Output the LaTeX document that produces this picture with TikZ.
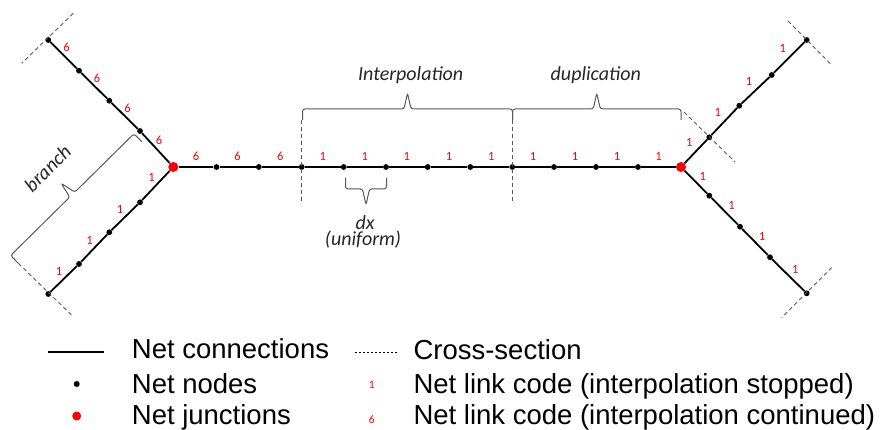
\documentclass[tikz,border=0pt]{standalone}
\usepackage{fontspec}
\setmainfont{Carlito}
\newfontfamily\legfont{Liberation Sans}
\usetikzlibrary{positioning}

\tikzset{
  pics/sqbrace/.style={code={
    \draw[brc] (0,0) -- (0,-11) -- ({#1/2-3.5},-11) -- ({#1/2},-27) -- ({#1/2+3.5},-11) -- (#1,-11) -- (#1,0);
  }}
}

\begin{document}
\begin{tikzpicture}[x=1pt,y=-1pt,
  net/.style={line width=1.8pt},
  netdot/.style={circle,fill=black,inner sep=0pt,minimum size=5.8pt},
  junc/.style={circle,fill=red,inner sep=0pt,minimum size=10pt},
  lab/.style={text=red,font=\fontsize{12.5}{12.5}\selectfont,inner sep=1pt},
  xsec/.style={black!65,line width=0.9pt,dash pattern=on 4pt off 3pt},
  brc/.style={black!65,line width=1pt,rounded corners=2.5pt},
  itl/.style={font=\fontsize{20}{20}\selectfont\itshape,text=black!85},
  leg/.style={font=\legfont\fontsize{27.5}{27.5}\selectfont,anchor=base west,inner sep=0pt}]
  \useasboundingbox (0,0) rectangle (883,430);

  % junctions and nodes
  \node[junc,alias=nw0,alias=sw0] (h0) at (173.3,167) {};
  \node[junc,alias=ne0,alias=se0] (h12) at (681,167) {};
  \foreach \i/\x in {1/216.5,2/258.8,3/301.7,4/343.7,5/386,6/427.7,7/470.3,8/512.3,9/554,10/596,11/638}
    \node[netdot] (h\i) at (\x,167) {};
  \foreach \k/\x/\y in {1/140/131,2/109.3/100.7,3/79/70.7,4/48.3/40}
    \node[netdot] (nw\k) at (\x,\y) {};
  \foreach \k/\x/\y in {1/140/202.3,2/109.3/232.3,3/79/264,4/48.3/294}
    \node[netdot] (sw\k) at (\x,\y) {};
  \foreach \k/\x/\y in {1/709.3/137.3,2/739.3/105.7,3/771.7/75,4/806.7/40}
    \node[netdot] (ne\k) at (\x,\y) {};
  \foreach \k/\x/\y in {1/709.3/195.7,2/740/226.7,3/770/257.3,4/806.7/293.3}
    \node[netdot] (se\k) at (\x,\y) {};

  % net connections with link codes
  \foreach \i [remember=\i as \j (initially 0)] in {1,...,12}
    \draw[net] (h\j) -- (h\i) node[lab,midway,above=5pt] {\ifnum\i<4 6\else 1\fi};
  \foreach \k [remember=\k as \j (initially 0)] in {1,...,4} {
    \draw[net] (nw\j) -- (nw\k) node[lab,midway,above=1.5pt,xshift=3pt] {6};
    \draw[net] (sw\j) -- (sw\k) node[lab,midway,above=2pt,xshift=-4.5pt] {1};
    \draw[net] (ne\j) -- (ne\k) node[lab,midway,above=3pt,xshift=-6.5pt] {1};
    \draw[net] (se\j) -- (se\k) node[lab,midway,above=0pt,xshift=7pt] {1};
  }

  % cross-sections
  \draw[xsec] (nw4.center) +(25,-26.7) -- +(-26.6,23.3);
  \draw[xsec] (sw4.center) +(-30,-30.7) -- +(25,22.7);
  \draw[xsec] (ne4.center) +(-18.7,-19) -- +(25,25);
  \draw[xsec] (se4.center) +(25,-25.7) -- +(-25,24.3);
  \draw[xsec] (ne1.center) +(-25.3,-25.3) -- +(25.7,24.7);
  \draw[xsec] (h3.center) +(0,-47) -- +(0,36);
  \draw[xsec] (h8.center) +(0,-47) -- +(0,36);

  % braces
  \pic at (302.5,120) {sqbrace=210};
  \pic at (512.5,120) {sqbrace=168.5};
  \pic[yscale=-1] at (345.5,178) {sqbrace=41};
  \pic[rotate=44.6] at (18.3,263.3) {sqbrace=173.3};
  \node[itl] (interp) at (410.7,75) {Interpolation};
  \node[itl] (dupl) at (595.8,75) {duplication};
  \node[itl] (dxlab) at (365,222.7) {dx};
  \node[itl] (unif) at (363,240) {(uniform)};
  \node[itl,rotate=44.6,inner sep=0pt] (brlab) at (47.5,168.5) {branch};

  % legend
  \coordinate (lsa) at (48.3,351.7);
  \coordinate (lsb) at (104,351.7);
  \draw[net,line width=2pt] (lsa) -- (lsb);
  \node[leg] (tconn) at (131.7,358.3) {Net connections};
  \node[netdot,minimum size=6pt] (ldot) at (76.7,384) {};
  \node[leg] (tnodes) at (131.7,393.3) {Net nodes};
  \node[junc,minimum size=9pt] (ljunc) at (76.7,416) {};
  \node[leg] (tjunc) at (131.7,424.3) {Net junctions};
  \coordinate (lxa) at (355,352.7);
  \coordinate (lxb) at (398.3,352.7);
  \draw[black,line width=0.7pt,dash pattern=on 2.2pt off 1.8pt] (lxa) -- (lxb);
  \node[leg] (tcross) at (413.3,359.3) {Cross-section};
  \node[lab,font=\fontsize{11.5}{11.5}\selectfont] (lone) at (371.7,385) {1};
  \node[leg] (tstop) at (413.3,393.3) {Net link code (interpolation stopped)};
  \node[lab,font=\fontsize{11.5}{11.5}\selectfont] (lsix) at (371.7,420) {6};
  \node[leg] (tcont) at (413.3,424.3) {Net link code (interpolation continued)};
\end{tikzpicture}
\end{document}
